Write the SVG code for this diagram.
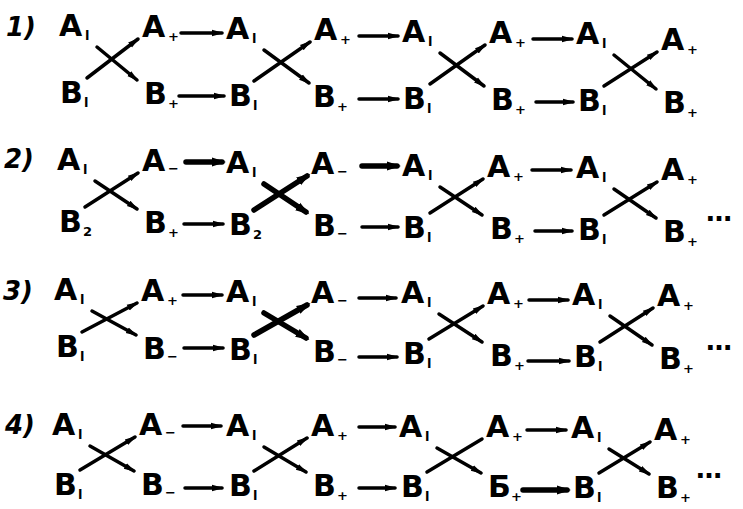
<svg xmlns="http://www.w3.org/2000/svg" width="743" height="509" viewBox="0 0 743 509">
<defs>
<style>
text{font-family:"DejaVu Sans","Liberation Sans",sans-serif;font-weight:bold;fill:#000}
.n{font-size:30px}
.s{font-size:13px}
.lb{font-size:26px;font-style:italic}
.d{font-size:26px}
.e{stroke:#000;stroke-width:3.5;fill:none;stroke-linecap:round}
.a{marker-end:url(#ah)}
.t{stroke-width:5.5;marker-end:url(#ah2)}
</style>
<marker id="ah" markerUnits="userSpaceOnUse" markerWidth="14" markerHeight="10" refX="10" refY="4" orient="auto" viewBox="0 0 14 8">
<path d="M0,0.8 L12,4 L0,7.2 z" fill="#000"/>
</marker>
<marker id="ah2" markerUnits="userSpaceOnUse" markerWidth="16" markerHeight="12" refX="10" refY="5" orient="auto" viewBox="0 0 16 10">
<path d="M0,0.5 L14,5 L0,9.5 z" fill="#000"/>
</marker>
</defs>
<rect width="743" height="509" fill="#fff"/>

<g id="labels">
<text class="lb" x="6" y="36">1)</text>
<text class="lb" x="4" y="168">2)</text>
<text class="lb" x="3" y="300">3)</text>
<text class="lb" x="5" y="434">4)</text>
<text class="d" x="706" y="221">…</text>
<text class="d" x="706" y="350">…</text>
<text class="d" x="696" y="478">…</text>
</g>

<!-- Row 1 -->
<g id="r1A1"><text class="n" x="59" y="36">A</text><text class="s" x="85" y="40">l</text></g>
<g id="r1A2"><text class="n" x="142" y="37">A</text><text class="s" x="168" y="41">+</text></g>
<g id="r1A3"><text class="n" x="226" y="39">A</text><text class="s" x="252" y="43">l</text></g>
<g id="r1A4"><text class="n" x="314" y="40">A</text><text class="s" x="340" y="44">+</text></g>
<g id="r1A5"><text class="n" x="402" y="42">A</text><text class="s" x="428" y="46">l</text></g>
<g id="r1A6"><text class="n" x="489" y="43">A</text><text class="s" x="515" y="47">+</text></g>
<g id="r1A7"><text class="n" x="576" y="44">A</text><text class="s" x="602" y="48">l</text></g>
<g id="r1A8"><text class="n" x="661" y="50">A</text><text class="s" x="687" y="54">+</text></g>
<g id="r1B1"><text class="n" x="60" y="103">B</text><text class="s" x="84" y="107">l</text></g>
<g id="r1B2"><text class="n" x="144" y="104">B</text><text class="s" x="168" y="108">+</text></g>
<g id="r1B3"><text class="n" x="229" y="106">B</text><text class="s" x="253" y="110">l</text></g>
<g id="r1B4"><text class="n" x="313" y="107">B</text><text class="s" x="337" y="111">+</text></g>
<g id="r1B5"><text class="n" x="403" y="109">B</text><text class="s" x="427" y="113">l</text></g>
<g id="r1B6"><text class="n" x="491" y="110">B</text><text class="s" x="515" y="114">+</text></g>
<g id="r1B7"><text class="n" x="578" y="111">B</text><text class="s" x="602" y="115">l</text></g>
<g id="r1B8"><text class="n" x="663" y="113">B</text><text class="s" x="687" y="117">+</text></g>

<!-- Row 2 -->
<g id="r2A1"><text class="n" x="57" y="170">A</text><text class="s" x="83" y="174">l</text></g>
<g id="r2A2"><text class="n" x="142" y="171">A</text><text class="s" x="168" y="173">−</text></g>
<g id="r2A3"><text class="n" x="226" y="173">A</text><text class="s" x="252" y="177">l</text></g>
<g id="r2A4"><text class="n" x="311" y="174">A</text><text class="s" x="337" y="176">−</text></g>
<g id="r2A5"><text class="n" x="402" y="176">A</text><text class="s" x="428" y="180">l</text></g>
<g id="r2A6"><text class="n" x="487" y="177">A</text><text class="s" x="513" y="181">+</text></g>
<g id="r2A7"><text class="n" x="576" y="178">A</text><text class="s" x="602" y="182">l</text></g>
<g id="r2A8"><text class="n" x="661" y="180">A</text><text class="s" x="687" y="184">+</text></g>
<g id="r2B1"><text class="n" x="59" y="232">B</text><text class="s" x="83" y="236">2</text></g>
<g id="r2B2"><text class="n" x="144" y="233">B</text><text class="s" x="168" y="237">+</text></g>
<g id="r2B3"><text class="n" x="229" y="235">B</text><text class="s" x="253" y="239">2</text></g>
<g id="r2B4"><text class="n" x="313" y="236">B</text><text class="s" x="337" y="238">−</text></g>
<g id="r2B5"><text class="n" x="403" y="238">B</text><text class="s" x="427" y="242">l</text></g>
<g id="r2B6"><text class="n" x="490" y="239">B</text><text class="s" x="514" y="243">+</text></g>
<g id="r2B7"><text class="n" x="578" y="240">B</text><text class="s" x="602" y="244">l</text></g>
<g id="r2B8"><text class="n" x="663" y="242">B</text><text class="s" x="687" y="246">+</text></g>

<!-- Row 3 -->
<g id="r3A1"><text class="n" x="54" y="300">A</text><text class="s" x="80" y="304">l</text></g>
<g id="r3A2"><text class="n" x="141" y="301">A</text><text class="s" x="167" y="305">+</text></g>
<g id="r3A3"><text class="n" x="226" y="302">A</text><text class="s" x="252" y="306">l</text></g>
<g id="r3A4"><text class="n" x="311" y="303">A</text><text class="s" x="337" y="305">−</text></g>
<g id="r3A5"><text class="n" x="401" y="303">A</text><text class="s" x="427" y="307">l</text></g>
<g id="r3A6"><text class="n" x="487" y="304">A</text><text class="s" x="513" y="308">+</text></g>
<g id="r3A7"><text class="n" x="572" y="305">A</text><text class="s" x="598" y="309">l</text></g>
<g id="r3A8"><text class="n" x="657" y="306">A</text><text class="s" x="683" y="310">+</text></g>
<g id="r3B1"><text class="n" x="56" y="357">B</text><text class="s" x="80" y="361">l</text></g>
<g id="r3B2"><text class="n" x="143" y="359">B</text><text class="s" x="167" y="361">−</text></g>
<g id="r3B3"><text class="n" x="229" y="360">B</text><text class="s" x="253" y="364">l</text></g>
<g id="r3B4"><text class="n" x="313" y="362">B</text><text class="s" x="337" y="364">−</text></g>
<g id="r3B5"><text class="n" x="403" y="364">B</text><text class="s" x="427" y="368">l</text></g>
<g id="r3B6"><text class="n" x="490" y="366">B</text><text class="s" x="514" y="370">+</text></g>
<g id="r3B7"><text class="n" x="574" y="367">B</text><text class="s" x="598" y="371">l</text></g>
<g id="r3B8"><text class="n" x="659" y="369">B</text><text class="s" x="683" y="373">+</text></g>

<!-- Row 4 -->
<g id="r4A1"><text class="n" x="52" y="435">A</text><text class="s" x="78" y="439">l</text></g>
<g id="r4A2"><text class="n" x="139" y="435">A</text><text class="s" x="165" y="437">−</text></g>
<g id="r4A3"><text class="n" x="226" y="436">A</text><text class="s" x="252" y="440">l</text></g>
<g id="r4A4"><text class="n" x="311" y="436">A</text><text class="s" x="337" y="440">+</text></g>
<g id="r4A5"><text class="n" x="399" y="437">A</text><text class="s" x="425" y="441">l</text></g>
<g id="r4A6"><text class="n" x="486" y="437">A</text><text class="s" x="512" y="441">+</text></g>
<g id="r4A7"><text class="n" x="571" y="438">A</text><text class="s" x="597" y="442">l</text></g>
<g id="r4A8"><text class="n" x="654" y="440">A</text><text class="s" x="680" y="444">+</text></g>
<g id="r4B1"><text class="n" x="54" y="495">B</text><text class="s" x="78" y="499">l</text></g>
<g id="r4B2"><text class="n" x="141" y="495">B</text><text class="s" x="165" y="497">−</text></g>
<g id="r4B3"><text class="n" x="229" y="496">B</text><text class="s" x="253" y="500">l</text></g>
<g id="r4B4"><text class="n" x="313" y="496">B</text><text class="s" x="337" y="500">+</text></g>
<g id="r4B5"><text class="n" x="401" y="497">B</text><text class="s" x="425" y="501">l</text></g>
<g id="r4B6"><text class="n" x="488" y="497">Б</text><text class="s" x="511" y="501">+</text></g>
<g id="r4B7"><text class="n" x="573" y="498">B</text><text class="s" x="597" y="502">l</text></g>
<g id="r4B8"><text class="n" x="656" y="498">B</text><text class="s" x="680" y="502">+</text></g>

<g id="connectors">
<!-- Row 1 crosses -->
<path class="e a" d="M87,78 L138,39"/><path class="e a" d="M97,47 L137,80"/>
<path class="e a" d="M254,81 L310,42"/><path class="e a" d="M264,50 L309,83"/>
<path class="e a" d="M430,84 L485,45"/><path class="e a" d="M440,53 L484,86"/>
<path class="e a" d="M604,86 L657,52"/><path class="e a" d="M614,55 L656,89"/>
<!-- Row 1 arrows -->
<path class="e a" d="M181,33 L222,33"/><path class="e a" d="M179,96 L224,96"/>
<path class="e a" d="M359,36 L398,36"/><path class="e a" d="M359,99 L398,99"/>
<path class="e a" d="M533,39 L572,39"/><path class="e a" d="M536,102 L573,102"/>

<!-- Row 2 crosses -->
<path class="e a" d="M85,207 L138,173"/><path class="e a" d="M95,181 L137,209"/>
<path class="e t" d="M254,210 L307,176"/><path class="e t" d="M264,184 L306,212"/>
<path class="e a" d="M430,213 L483,179"/><path class="e a" d="M440,187 L482,215"/>
<path class="e a" d="M604,215 L657,182"/><path class="e a" d="M614,189 L656,218"/>
<!-- Row 2 arrows -->
<path class="e t" d="M186,162 L222,162"/><path class="e a" d="M184,224 L223,224"/>
<path class="e t" d="M362,166 L397,166"/><path class="e a" d="M362,227 L398,227"/>
<path class="e a" d="M532,170 L571,170"/><path class="e a" d="M535,231 L572,231"/>

<!-- Row 3 crosses -->
<path class="e a" d="M82,332 L137,303"/><path class="e a" d="M92,311 L136,335"/>
<path class="e t" d="M254,335 L307,305"/><path class="e t" d="M264,313 L306,338"/>
<path class="e a" d="M429,339 L483,306"/><path class="e a" d="M439,314 L482,342"/>
<path class="e a" d="M600,342 L653,308"/><path class="e a" d="M610,316 L652,345"/>
<!-- Row 3 arrows -->
<path class="e a" d="M183,295 L222,295"/><path class="e a" d="M184,348 L223,348"/>
<path class="e a" d="M359,298 L396,298"/><path class="e a" d="M359,357 L397,357"/>
<path class="e a" d="M529,300 L568,300"/><path class="e a" d="M528,361 L569,361"/>

<!-- Row 4 crosses -->
<path class="e a" d="M80,470 L135,437"/><path class="e a" d="M90,446 L134,471"/>
<path class="e a" d="M254,471 L307,438"/><path class="e a" d="M264,447 L306,472"/>
<path class="e" d="M427,472 L482,439"/><path class="e a" d="M437,448 L481,473"/>
<path class="e a" d="M599,473 L650,442"/><path class="e a" d="M609,449 L649,474"/>
<!-- Row 4 arrows -->
<path class="e a" d="M183,426 L221,426"/><path class="e a" d="M185,488 L222,488"/>
<path class="e a" d="M359,427 L395,427"/><path class="e a" d="M359,488 L395,488"/>
<path class="e a" d="M527,430 L566,430"/><path class="e t" d="M523,490 L567,490"/>
</g>
</svg>
